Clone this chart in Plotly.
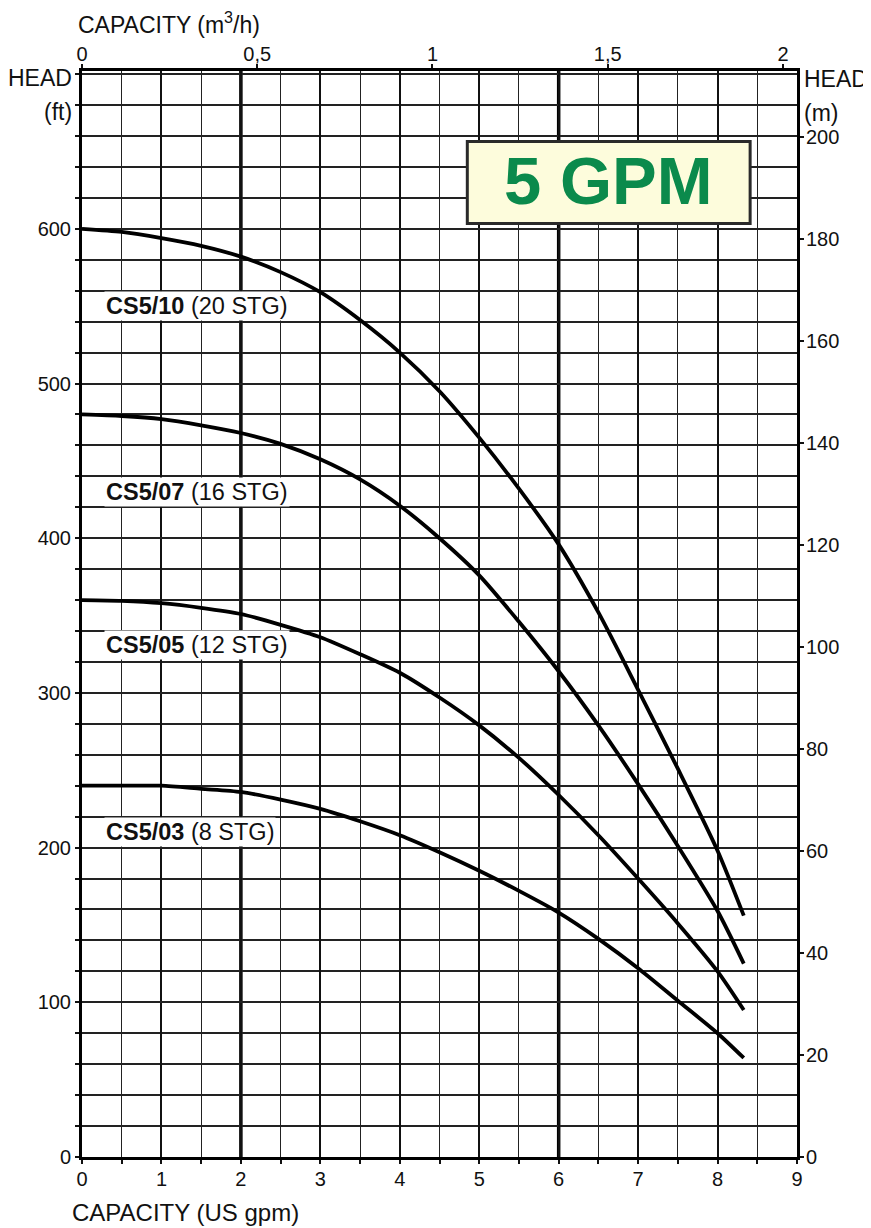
import plotly.graph_objects as go

# ---------------- data ----------------
gpm = [0, 0.5, 1, 1.5, 2, 2.5, 3, 3.5, 4, 4.5, 5, 5.5, 6, 6.5, 7, 7.5, 8, 8.33]
head_cs5_10 = [600, 598, 594, 589, 582, 572, 559, 541, 520, 495, 465, 432, 396, 352, 302, 251, 198, 156]
head_cs5_07 = [480, 479, 477, 473, 468, 461, 451, 438, 421, 400, 376, 346, 314, 279, 241, 201, 159, 125]
head_cs5_05 = [360, 359.5, 358, 355, 351, 344, 336, 325, 313, 297, 279, 258, 234, 208, 180, 151, 120, 95]
head_cs5_03 = [240, 240, 240, 238, 236, 231, 225, 217, 208, 197, 185, 172, 158, 141, 122, 101, 80, 64]

series_models = ["CS5/10", "CS5/07", "CS5/05", "CS5/03"]
series_stages = ["(20 STG)", "(16 STG)", "(12 STG)", "(8 STG)"]
series_heads = [head_cs5_10, head_cs5_07, head_cs5_05, head_cs5_03]

left_tickvals = [0, 100, 200, 300, 400, 500, 600]
top_tickvals = [0, 0.5, 1, 1.5, 2]
top_ticktext = ["0", "0,5", "1", "1,5", "2"]

# ---------------- layout constants ----------------
FONT = "Liberation Sans, Arial, sans-serif"
INK = "#111111"
X_MAX_GPM = 9
Y_MAX_FT = 702
Y_MAX_M = 213.0
X_MAX_M3H = 2.04
label_x = 0.28
label_y = [550, 430, 331, 210]
emphasis_gpm = [2, 6]
badge = dict(x0=4.85, x1=8.41, y0=603.5, y1=656.5)

fig = go.Figure()

for model, stg, heads in zip(series_models, series_stages, series_heads):
    fig.add_trace(go.Scatter(
        x=gpm, y=heads, mode="lines", name=model,
        line=dict(color="#000000", width=3.8, shape="spline", smoothing=0.7),
        showlegend=False, hoverinfo="x+y",
    ))

# invisible helper traces to activate secondary axes
fig.add_trace(go.Scatter(x=[], y=[], xaxis="x2", yaxis="y", showlegend=False, hoverinfo="skip"))
fig.add_trace(go.Scatter(x=[], y=[], xaxis="x", yaxis="y2", showlegend=False, hoverinfo="skip"))

tickfont = dict(family=FONT, size=20, color=INK)

fig.update_layout(
    width=863, height=1220,
    margin=dict(l=74, r=74, t=63, b=71),
    paper_bgcolor="white", plot_bgcolor="white",
    font=dict(family=FONT, color=INK),
    xaxis=dict(
        range=[0, X_MAX_GPM], tickmode="linear", tick0=0, dtick=1,
        ticks="outside", ticklen=4, tickwidth=1.5, tickcolor=INK,
        showgrid=True, gridcolor="#111", gridwidth=2,
        minor=dict(dtick=0.5, ticks="outside", ticklen=4, tickwidth=1.5, tickcolor=INK,
                   showgrid=True, gridcolor="#222", gridwidth=1.3),
        showline=True, linewidth=3, linecolor="#000", zeroline=False,
        tickfont=tickfont, ticklabelstandoff=-2,
    ),
    xaxis2=dict(
        overlaying="x", side="top", range=[0, X_MAX_M3H],
        tickmode="array", tickvals=top_tickvals, ticktext=top_ticktext,
        ticks="outside", ticklen=4, tickwidth=1.5, tickcolor=INK,
        showgrid=False, zeroline=False,
        showline=True, linewidth=2.5, linecolor="#000",
        tickfont=tickfont, ticklabelstandoff=-5,
    ),
    yaxis=dict(
        range=[0, Y_MAX_FT], tickmode="array", tickvals=left_tickvals,
        ticks="outside", ticklen=4, tickwidth=1.5, tickcolor=INK,
        showgrid=True, gridcolor="#222", gridwidth=1.5,
        minor=dict(tick0=0, dtick=20, ticks="outside", ticklen=4, tickwidth=1.5, tickcolor=INK,
                   showgrid=True, gridcolor="#222", gridwidth=1.5),
        showline=True, linewidth=3, linecolor="#000", zeroline=False,
        tickfont=tickfont, ticklabelstandoff=0,
    ),
    yaxis2=dict(
        overlaying="y", side="right", range=[0, Y_MAX_M],
        tickmode="linear", tick0=0, dtick=20,
        ticks="outside", ticklen=4, tickwidth=1.5, tickcolor=INK,
        showgrid=False, zeroline=False,
        showline=True, linewidth=3, linecolor="#000",
        tickfont=tickfont, ticklabelstandoff=-2,
    ),
)

shapes = []
for xv in emphasis_gpm:
    shapes.append(dict(type="line", xref="x", yref="paper", x0=xv, x1=xv, y0=0, y1=1,
                       line=dict(color="#000", width=3.5), layer="between"))
shapes.append(dict(type="rect", xref="x", yref="y", **badge,
                   fillcolor="#FDFCDC", line=dict(color="#2a2a2a", width=3), layer="above"))
fig.update_layout(shapes=shapes)

ann = []
for model, stg, ly in zip(series_models, series_stages, label_y):
    ann.append(dict(x=label_x, y=ly, xref="x", yref="y", xanchor="left", yanchor="middle",
                    text=f"<b>{model}</b> {stg}", showarrow=False,
                    font=dict(family=FONT, size=23.5, color=INK),
                    bgcolor="white", borderpad=1))

ann.append(dict(x=(badge["x0"] + badge["x1"]) / 2, y=(badge["y0"] + badge["y1"]) / 2,
                xref="x", yref="y", text="<b>5 GPM</b>", showarrow=False,
                font=dict(family=FONT, size=67, color="#0B8A4C"), yshift=2))

title_font = dict(family=FONT, size=23, color=INK)
ann += [
    dict(x=0, y=1, xref="paper", yref="paper", xanchor="right", yanchor="middle",
         text="HEAD", showarrow=False, font=title_font, xshift=-8, yshift=-7),
    dict(x=0, y=1, xref="paper", yref="paper", xanchor="right", yanchor="middle",
         text="(ft)", showarrow=False, font=title_font, xshift=-8, yshift=-41),
    dict(x=1, y=1, xref="paper", yref="paper", xanchor="left", yanchor="middle",
         text="HEAD", showarrow=False, font=title_font, xshift=5, yshift=-8),
    dict(x=1, y=1, xref="paper", yref="paper", xanchor="left", yanchor="middle",
         text="(m)", showarrow=False, font=title_font, xshift=5, yshift=-42),
    dict(x=0, y=1, xref="paper", yref="paper", xanchor="left", yanchor="middle",
         text="CAPACITY (m<sup>3</sup>/h)", showarrow=False, font=title_font,
         xshift=-6, yshift=48),
    dict(x=0, y=0, xref="paper", yref="paper", xanchor="left", yanchor="middle",
         text="CAPACITY (US gpm)", showarrow=False,
         font=dict(family=FONT, size=24, color=INK),
         xshift=-12, yshift=-55),
]
fig.update_layout(annotations=ann)

fig.write_html("out.html")
